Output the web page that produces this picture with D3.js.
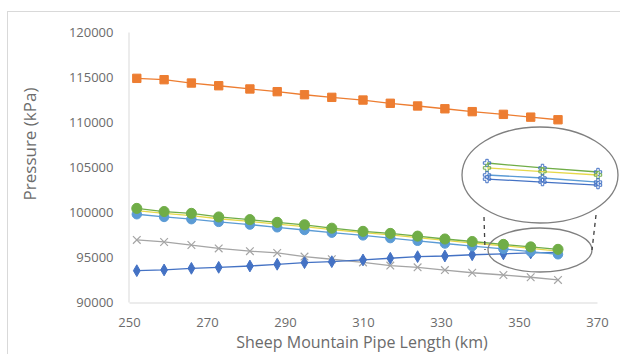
<!DOCTYPE html>
<html>
<head>
<meta charset="utf-8">
<script src="https://cdn.jsdelivr.net/npm/d3@7"></script>
<style>
  body { margin: 0; background: #fff; }
  text { font-family: "Open Sans", "Liberation Sans", sans-serif; fill: #6b6b6b; }
</style>
</head>
<body>
<div id="chart"></div>
<script>
// data
var lengths = [252, 259, 266, 273, 281, 288, 295, 302, 310, 317, 324, 331, 338, 346, 353, 360];
var orangeP = [114850, 114700, 114330, 114030, 113670, 113370, 113030, 112740, 112440, 112080, 111780, 111470, 111150, 110850, 110540, 110250];
var greenP  = [100400, 100050, 99850, 99450, 99150, 98850, 98580, 98200, 97850, 97620, 97320, 97000, 96720, 96400, 96120, 95850];
var yellowP = [100150, 99850, 99600, 99250, 98950, 98650, 98380, 98050, 97700, 97450, 97150, 96850, 96550, 96250, 95950, 95650];
var blueP   = [99750, 99450, 99200, 98900, 98600, 98300, 98000, 97700, 97400, 97100, 96800, 96500, 96200, 95900, 95600, 95300];
var navyP   = [93480, 93560, 93740, 93850, 94000, 94190, 94370, 94480, 94670, 94860, 95040, 95110, 95250, 95350, 95450, 95500];
var grayP   = [96900, 96670, 96330, 95950, 95650, 95450, 95050, 94750, 94400, 94050, 93850, 93550, 93250, 93000, 92750, 92450];
var xTicks = [250, 270, 290, 310, 330, 350, 370];
var yTicks = [90000, 95000, 100000, 105000, 110000, 115000, 120000];

// inset (zoomed view of the tail)
var insetX = [346, 353, 360];
var insetGreen  = [96060, 95830, 95640];
var insetYellow = [95830, 95660, 95500];
var insetBlue   = [95500, 95360, 95170];
var insetNavy   = [95310, 95170, 95030];

var width = 620, height = 354;

var svg = d3.select("#chart")
  .append("svg")
    .attr("width", width)
    .attr("height", height);

// chart frame
svg.append("rect")
  .attr("x", 7.5).attr("y", 11.5)
  .attr("width", 640).attr("height", 360)
  .attr("fill", "none")
  .attr("stroke", "#d9d9d9");

var x = d3.scaleLinear().domain([250, 370]).range([129, 597]);
var y = d3.scaleLinear().domain([90000, 120000]).range([302, 32]);

// axes
var xAxis = svg.append("g")
  .attr("transform", "translate(0,302.5)")
  .call(d3.axisBottom(x).tickValues(xTicks).tickSize(0).tickPadding(15).tickFormat(d3.format("d")));
xAxis.select(".domain").attr("stroke", "#d9d9d9");
xAxis.selectAll("text").style("font-size", "13px").attr("fill", "#6b6b6b");

var yAxis = svg.append("g")
  .attr("transform", "translate(128.5,0)")
  .call(d3.axisLeft(y).tickValues(yTicks).tickSize(0).tickPadding(15).tickFormat(d3.format("d")));
yAxis.select(".domain").attr("stroke", "#d9d9d9");
yAxis.selectAll("text").style("font-size", "13px").attr("fill", "#6b6b6b");

// axis titles
svg.append("text")
  .attr("x", 362).attr("y", 348)
  .attr("text-anchor", "middle")
  .style("font-size", "16px")
  .text("Sheep Mountain Pipe Length (km)");

svg.append("text")
  .attr("transform", "translate(36,144) rotate(-90)")
  .attr("text-anchor", "middle")
  .style("font-size", "17px")
  .text("Pressure (kPa)");

var line = d3.line()
  .x(function(d, i) { return x(lengths[i]); })
  .y(function(d) { return y(d); });

function drawSeries(vals, color, symbol, size, fillMarker) {
  var g = svg.append("g");
  g.append("path")
    .datum(vals)
    .attr("d", line)
    .attr("fill", "none")
    .attr("stroke", color)
    .attr("stroke-width", 1.3);
  g.selectAll("path.m")
    .data(vals)
    .enter()
    .append("path")
      .attr("class", "m")
      .attr("transform", function(d, i) { return "translate(" + x(lengths[i]) + "," + y(d) + ")"; })
      .attr("d", d3.symbol().type(symbol).size(size))
      .attr("fill", fillMarker ? color : "none")
      .attr("stroke", color)
      .attr("stroke-width", fillMarker ? 1 : 1.2);
}

drawSeries(grayP, "#a5a5a5", d3.symbolTimes, 40, false);
drawSeries(navyP, "#4472c4", d3.symbolDiamond, 40, true);
drawSeries(blueP, "#5b9bd5", d3.symbolCircle, 70, true);
drawSeries(yellowP, "#e6d84a", d3.symbolCircle, 0, true);
drawSeries(greenP, "#70ad47", d3.symbolCircle, 80, true);
drawSeries(orangeP, "#ed7d31", d3.symbolSquare, 70, true);

// inset with zoomed lines
var ix = d3.scaleLinear().domain([346, 360]).range([487, 598]);
var iy = d3.scaleLinear().domain([94800, 96200]).range([190, 160]);
var iline = d3.line()
  .x(function(d, i) { return ix(insetX[i]); })
  .y(function(d) { return iy(d); });

svg.append("ellipse")
  .attr("cx", 540).attr("cy", 175).attr("rx", 78).attr("ry", 48)
  .attr("fill", "none").attr("stroke", "#7f7f7f").attr("stroke-width", 1.3);
svg.append("ellipse")
  .attr("cx", 540).attr("cy", 250).attr("rx", 52).attr("ry", 22)
  .attr("fill", "none").attr("stroke", "#7f7f7f").attr("stroke-width", 1.3);

[[484, 217, 485, 250], [596, 215, 592, 250]].forEach(function(s) {
  svg.append("line")
    .attr("x1", s[0]).attr("y1", s[1]).attr("x2", s[2]).attr("y2", s[3])
    .attr("stroke", "#404040").attr("stroke-width", 1.3)
    .attr("stroke-dasharray", "4,4");
});

[[insetGreen, "#70ad47"], [insetYellow, "#e6d84a"], [insetBlue, "#5b9bd5"], [insetNavy, "#4472c4"]].forEach(function(s) {
  svg.append("path")
    .datum(s[0])
    .attr("d", iline)
    .attr("fill", "none")
    .attr("stroke", s[1])
    .attr("stroke-width", 1.3);
  svg.selectAll(null)
    .data(s[0])
    .enter()
    .append("path")
      .attr("transform", function(d, i) { return "translate(" + ix(insetX[i]) + "," + iy(d) + ")"; })
      .attr("d", d3.symbol().type(d3.symbolCross).size(30))
      .attr("fill", "none")
      .attr("stroke", s[1] === "#e6d84a" ? "#70ad47" : "#4472c4")
      .attr("stroke-width", 1);
});
</script>
</body>
</html>
